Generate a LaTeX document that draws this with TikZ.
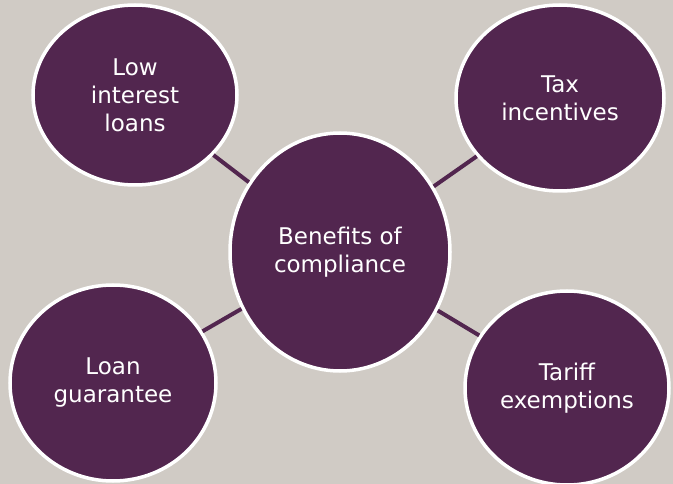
\documentclass[tikz,border=0pt]{standalone}
\usepackage{fontspec}
\setmainfont{DejaVu Sans}
\usetikzlibrary{shapes.geometric}

\definecolor{plum}{HTML}{52264F}
\definecolor{stone}{HTML}{D0CBC5}

\begin{document}
\begin{tikzpicture}[
  x=1pt, y=-1pt,
  bubble/.style={ellipse,draw=white,line width=3.5pt,fill=plum,inner sep=0pt,
    text=white,align=center,font=\fontsize{23}{28}\selectfont},
  link/.style={draw=plum,line width=4pt}
]
\fill[stone] (0,0) rectangle (673,484);
\useasboundingbox (0,0) rectangle (673,484);

\node[bubble, minimum width=220pt, minimum height=238pt] (ben) at (340,252) {Benefits of\\compliance};
\node[bubble, minimum width=204pt, minimum height=180pt] (lowint) at (135,95) {Low\\interest\\loans};
\node[bubble, minimum width=208pt, minimum height=186pt] (tax) at (560,98) {Tax\\incentives};
\node[bubble, minimum width=206pt, minimum height=196pt] (guar) at (113,383) {Loan\\guarantee};
\node[bubble, minimum width=204pt, minimum height=194pt] (tariff) at (567,388) {Tariff\\exemptions};

% connectors between the bubbles
\draw[link] (lowint) -- (ben);
\draw[link] (tax) -- (ben);
\draw[link] (guar) -- (ben);
\draw[link] (tariff) -- (ben);
\end{tikzpicture}
\end{document}
